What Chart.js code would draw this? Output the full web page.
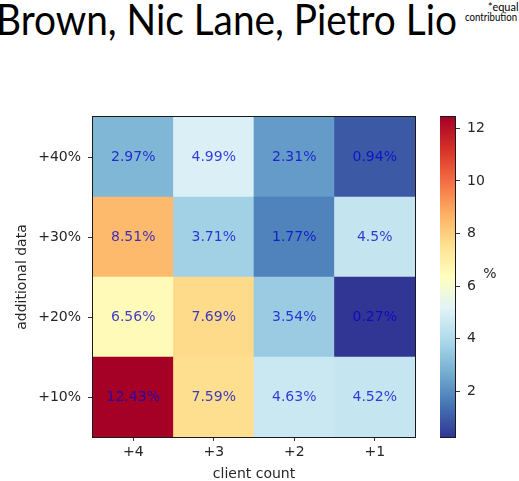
<!DOCTYPE html>
<html>
<head>
<meta charset="utf-8">
<script src="https://cdn.jsdelivr.net/npm/chart.js@4/dist/chart.umd.min.js"></script>
<style>
  html, body { margin: 0; padding: 0; background: #fff; width: 519px; height: 481px; overflow: hidden; }
  #wrap { position: relative; width: 519px; height: 481px; }
  #heat { position: absolute; left: 0; top: 0; }
  #cbar { position: absolute; left: 440px; top: 0; }
  .hdr { position: absolute; white-space: nowrap; color: #000; font-family: Lato, "Open Sans", sans-serif; }
  #authors { font-size: 42px; line-height: 42px; top: -2px; right: 62px; transform-origin: right center; }
  #eq1 { font-size: 11px; line-height: 11px; top: 1px; left: 488px; }
  #eq2 { font-size: 11px; line-height: 11px; top: 11px; left: 465px; }
</style>
</head>
<body>
<div id="wrap">
  <div class="hdr" id="authors">Brown, Nic Lane, Pietro Lio</div>
  <div class="hdr" id="eq1">*equal</div>
  <div class="hdr" id="eq2">contribution</div>
  <canvas id="heat" width="430" height="481" style="width:430px;height:481px"></canvas>
  <canvas id="cbar" width="79" height="481" style="width:79px;height:481px"></canvas>
</div>
<script>
// Client count along x, amount of additional data along y (bottom to top)
const clientCounts = ['+4', '+3', '+2', '+1'];
const dataLevels = ['+10%', '+20%', '+30%', '+40%'];

// Improvement (%) per cell, one array per additional-data level
const row10 = [12.43, 7.59, 4.63, 4.52];
const row20 = [6.56, 7.69, 3.54, 0.27];
const row30 = [8.51, 3.71, 1.77, 4.5];
const row40 = [2.97, 4.99, 2.31, 0.94];
const rows = [row10, row20, row30, row40];

// Colour bar ticks
const colorbarTicks = [2, 4, 6, 8, 10, 12];

// Fit the author line to its width
(function () {
  const el = document.getElementById('authors');
  const w = el.getBoundingClientRect().width;
  el.style.transform = 'scaleX(' + (461 / w) + ')';
  const e2 = document.getElementById('eq2');
  const w2 = e2.getBoundingClientRect().width;
  e2.style.transformOrigin = 'left center';
  e2.style.transform = 'scaleX(' + (52 / w2) + ')';
})();

// RdYlBu reversed: blue (low) -> yellow -> red (high)
const stops = [
  [49, 54, 149], [69, 117, 180], [116, 173, 209], [171, 217, 233], [224, 243, 248],
  [255, 255, 191], [254, 224, 144], [253, 174, 97], [244, 109, 67], [215, 48, 39], [165, 0, 38]
];
const allValues = rows.flat();
const vMin = Math.min(...allValues);
const vMax = Math.max(...allValues);

function cmap(t) {
  t = Math.max(0, Math.min(1, t));
  const p = t * (stops.length - 1);
  const i = Math.min(Math.floor(p), stops.length - 2);
  const f = p - i;
  const a = stops[i], b = stops[i + 1];
  const c = a.map((v, k) => Math.round(v + (b[k] - v) * f));
  return 'rgb(' + c.join(',') + ')';
}
const colorOf = v => cmap((v - vMin) / (vMax - vMin));

const tickFont = { family: 'DejaVu Sans', size: 14 };
const textColor = '#262626';

// Frame around the plotting area
const framePlugin = {
  id: 'frame',
  afterDatasetsDraw(chart) {
    const { ctx, chartArea: a } = chart;
    ctx.save();
    ctx.strokeStyle = '#1a1a1a';
    ctx.lineWidth = 1;
    ctx.strokeRect(Math.round(a.left) - 0.5, Math.round(a.top) - 0.5,
                   Math.round(a.right - a.left) + 1, Math.round(a.bottom - a.top) + 1);
    ctx.restore();
  }
};

// Value label centred in every cell
const cellLabels = {
  id: 'cellLabels',
  afterDatasetsDraw(chart) {
    const { ctx } = chart;
    ctx.save();
    ctx.font = '14px "DejaVu Sans"';
    ctx.textAlign = 'center';
    ctx.textBaseline = 'middle';
    ctx.fillStyle = 'rgba(0, 0, 205, 0.76)';
    chart.data.datasets.forEach((ds, di) => {
      const meta = chart.getDatasetMeta(di);
      meta.data.forEach((bar, j) => {
        const p = bar.getProps(['x', 'y', 'base'], true);
        ctx.fillText(rows[di][j] + '%', p.x, (p.y + p.base) / 2);
      });
    });
    ctx.restore();
  }
};

new Chart(document.getElementById('heat'), {
  type: 'bar',
  data: {
    labels: clientCounts,
    datasets: rows.map((vals, r) => ({
      data: vals.map(() => [r, r + 1]),
      backgroundColor: vals.map(colorOf),
      borderWidth: 0,
      grouped: false,
      barPercentage: 1,
      categoryPercentage: 1
    }))
  },
  options: {
    responsive: false,
    animation: false,
    layout: { padding: { top: 117, right: 15, bottom: 0, left: 0 } },
    plugins: { legend: { display: false }, tooltip: { enabled: false } },
    scales: {
      x: {
        type: 'category',
        afterFit: s => { s.height = 44; },
        grid: { display: true, offset: false, drawOnChartArea: false, drawTicks: true, tickLength: 4, color: '#333' },
        border: { display: false },
        ticks: { font: tickFont, color: textColor, padding: 3, maxRotation: 0 },
        title: { display: true, text: 'client count', font: { family: 'DejaVu Sans', size: 14, lineHeight: 1 }, color: textColor, padding: { top: 0, bottom: 0 } }
      },
      y: {
        type: 'linear',
        min: 0,
        max: dataLevels.length,
        afterFit: s => { s.width = 93; },
        afterBuildTicks: s => { s.ticks = dataLevels.map((_, i) => ({ value: i + 0.5 })); },
        grid: { display: true, drawOnChartArea: false, drawTicks: true, tickLength: 5, color: '#333' },
        border: { display: false },
        ticks: {
          font: tickFont, color: textColor, padding: 7,
          callback: v => dataLevels[Math.floor(v)]
        },
        title: { display: true, text: 'additional data', font: { family: 'DejaVu Sans', size: 14, lineHeight: 1 }, color: textColor, padding: { top: 15, bottom: 0 } }
      }
    }
  },
  plugins: [cellLabels, framePlugin]
});

// Unit label beside the colour bar
const unitLabel = {
  id: 'unitLabel',
  afterDraw(chart) {
    const { ctx, chartArea: a } = chart;
    ctx.save();
    ctx.font = '14px "DejaVu Sans"';
    ctx.fillStyle = textColor;
    ctx.textAlign = 'center';
    ctx.textBaseline = 'middle';
    ctx.fillText('%', a.right + 35, (a.top + a.bottom) / 2 - 3);
    ctx.restore();
  }
};

new Chart(document.getElementById('cbar'), {
  type: 'bar',
  data: {
    labels: [''],
    datasets: [{
      data: [[vMin, vMax]],
      backgroundColor: ctx => {
        const a = ctx.chart.chartArea;
        if (!a) return null;
        const g = ctx.chart.ctx.createLinearGradient(0, a.bottom, 0, a.top);
        stops.forEach((_, i) => {
          const t = i / (stops.length - 1);
          g.addColorStop(t, cmap(t));
        });
        return g;
      },
      borderWidth: 0,
      barPercentage: 1,
      categoryPercentage: 1
    }]
  },
  options: {
    responsive: false,
    animation: false,
    layout: { padding: { top: 117, right: 0, bottom: 44, left: 0 } },
    plugins: { legend: { display: false }, tooltip: { enabled: false } },
    scales: {
      x: { type: 'category', display: false },
      y: {
        position: 'right',
        min: vMin,
        max: vMax,
        afterFit: s => { s.width = 64; },
        afterBuildTicks: s => { s.ticks = colorbarTicks.map(v => ({ value: v })); },
        grid: { display: true, drawOnChartArea: false, drawTicks: true, tickLength: 5, color: '#333' },
        border: { display: false },
        ticks: { font: tickFont, color: textColor, padding: 7 }
      }
    }
  },
  plugins: [framePlugin, unitLabel]
});
</script>
</body>
</html>
